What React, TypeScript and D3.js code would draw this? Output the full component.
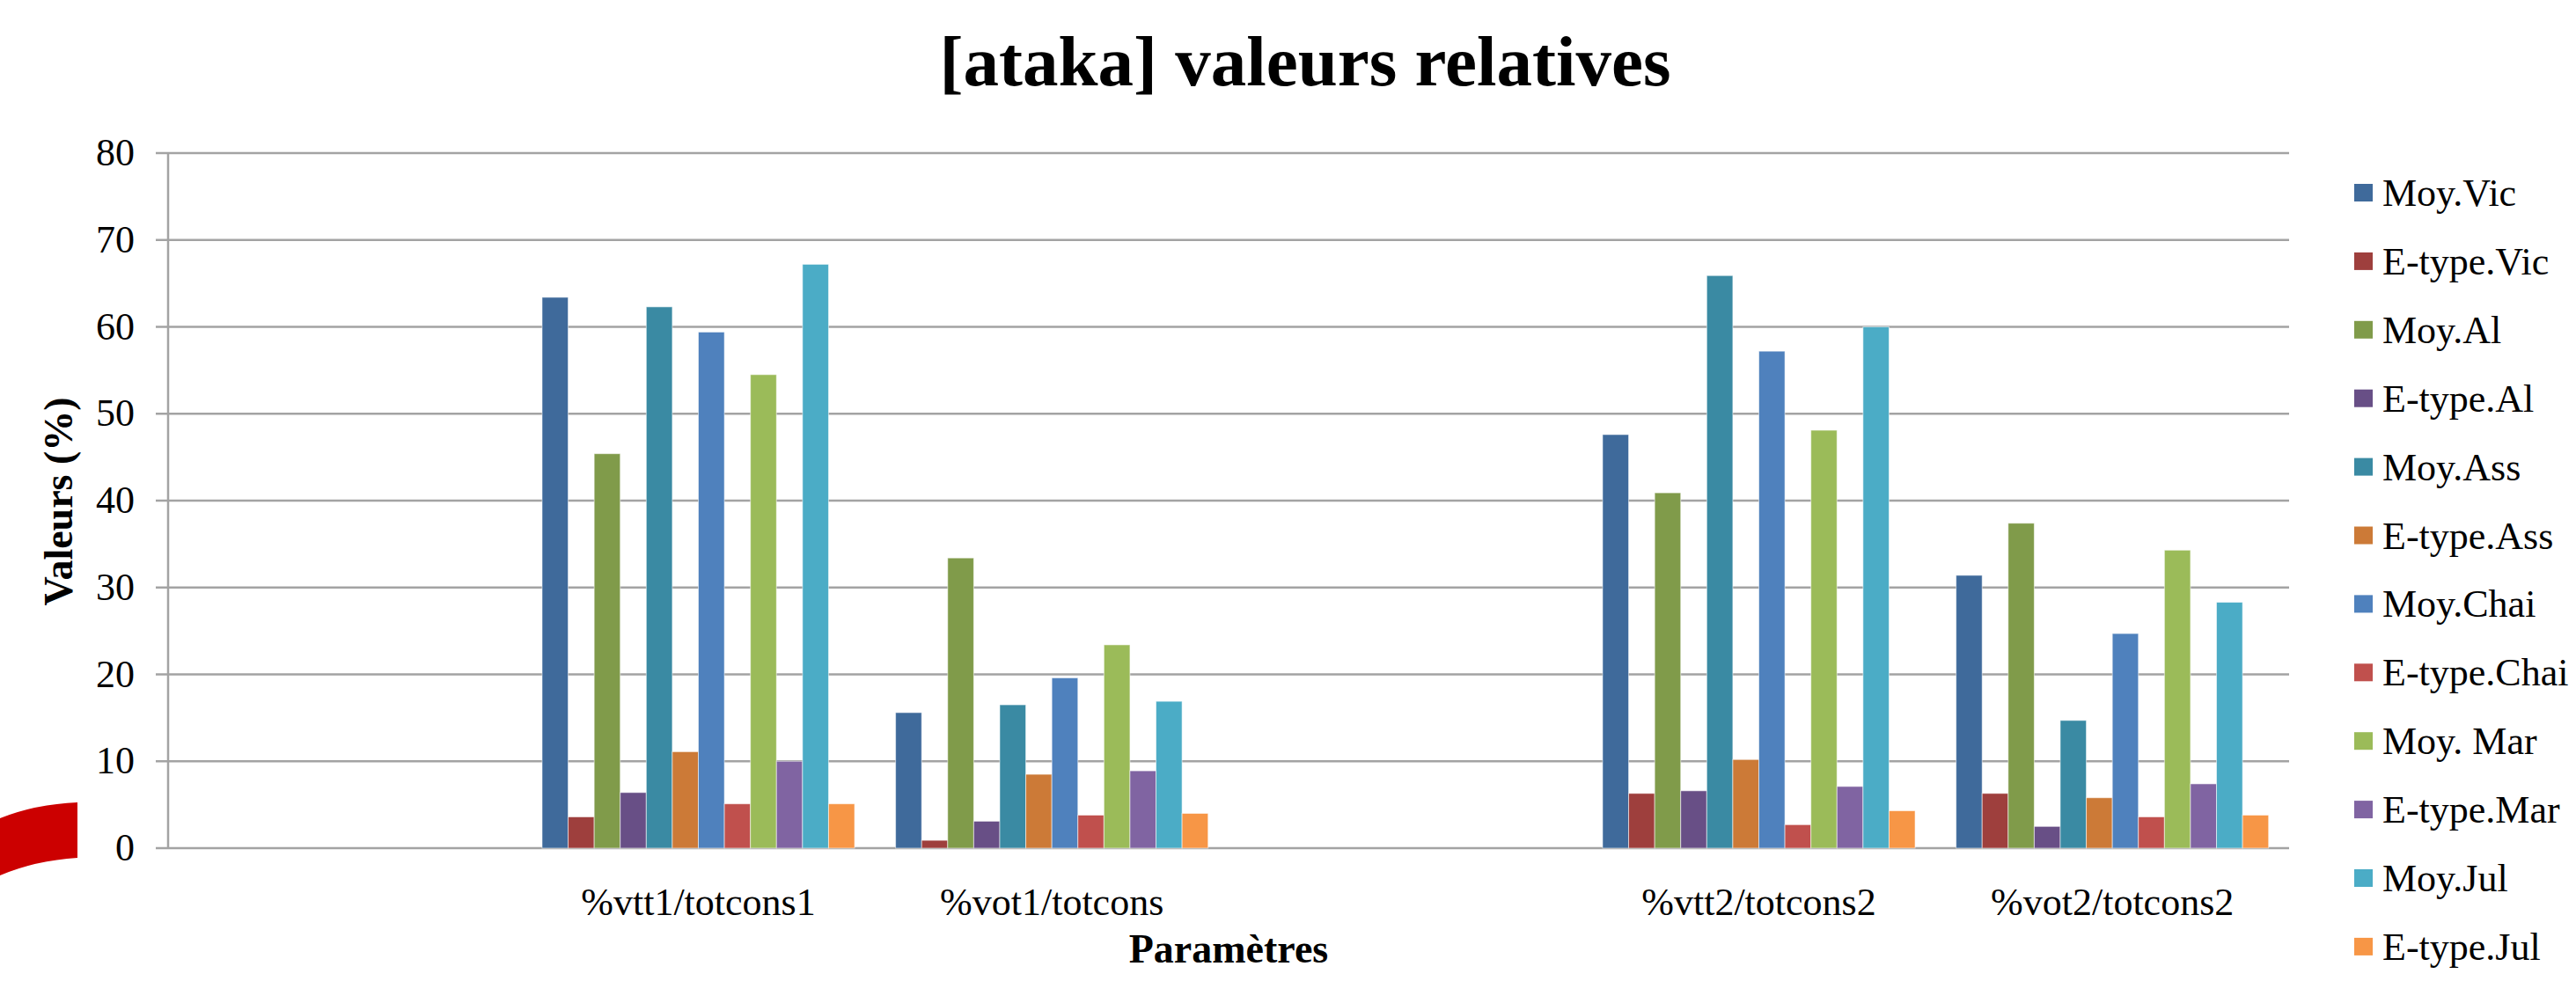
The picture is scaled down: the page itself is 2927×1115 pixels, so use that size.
import React, { useEffect, useRef } from "react";
import * as d3 from "d3";

// categories on the x axis (two blank slots, like the original sheet)
const categories = ["", "%vtt1/totcons1", "%vot1/totcons", " ", "%vtt2/totcons2", "%vot2/totcons2"];

const seriesNames = [
  "Moy.Vic", "E-type.Vic", "Moy.Al", "E-type.Al", "Moy.Ass", "E-type.Ass",
  "Moy.Chai", "E-type.Chai", "Moy. Mar", "E-type.Mar", "Moy.Jul", "E-type.Jul",
];

const seriesColors = [
  "#3f6a9b", "#9e3f3d", "#809b4a", "#684f86", "#3a8aa3", "#cc7a37",
  "#4f81bd", "#c0504d", "#9bbb59", "#8064a2", "#4bacc6", "#f79646",
];

// values per category, in series order
const vtt1Values = [63.4, 3.6, 45.4, 6.4, 62.3, 11.1, 59.4, 5.1, 54.5, 10.0, 67.2, 5.1];
const vot1Values = [15.6, 0.9, 33.4, 3.1, 16.5, 8.5, 19.6, 3.8, 23.4, 8.9, 16.9, 4.0];
const vtt2Values = [47.6, 6.3, 40.9, 6.6, 65.9, 10.2, 57.2, 2.7, 48.1, 7.1, 60.0, 4.3];
const vot2Values = [31.4, 6.3, 37.4, 2.5, 14.7, 5.8, 24.7, 3.6, 34.3, 7.4, 28.3, 3.8];

const yTicks = [0, 10, 20, 30, 40, 50, 60, 70, 80];

export default function App() {
  const svgRef = useRef<SVGSVGElement | null>(null);

  useEffect(() => {
    const svg = d3.select(svgRef.current);
    svg.selectAll("*").remove();

    const width = 2927;
    const height = 1115;
    const plot = { left: 191, right: 2601, top: 174, bottom: 964 };
    const font = "'Liberation Serif', 'Times New Roman', serif";

    svg.attr("width", width).attr("height", height);

    // decorative red arc from the slide template
    svg.append("path")
      .attr("d", "M88,912 L88,975 Q40,978 0,995 L0,930 Q40,914 88,912 Z")
      .attr("fill", "#cc0000");

    const valuesByCat: Record<string, number[]> = {
      "%vtt1/totcons1": vtt1Values,
      "%vot1/totcons": vot1Values,
      "%vtt2/totcons2": vtt2Values,
      "%vot2/totcons2": vot2Values,
    };

    // scales
    const x0 = d3.scaleBand<string>()
      .domain(categories)
      .range([plot.left, plot.right])
      .paddingInner(0)
      .paddingOuter(0);

    const groupW = x0.bandwidth() * 0.884;
    const x1 = d3.scaleBand<string>()
      .domain(seriesNames)
      .range([0, groupW]);

    const y = d3.scaleLinear()
      .domain([0, 80])
      .range([plot.bottom, plot.top]);

    // gridlines
    svg.append("g")
      .selectAll("line")
      .data(yTicks)
      .join("line")
      .attr("x1", plot.left - 14)
      .attr("x2", plot.right)
      .attr("y1", (d) => y(d))
      .attr("y2", (d) => y(d))
      .attr("stroke", "#a3a3a3")
      .attr("stroke-width", 2.5);

    // y axis line
    svg.append("line")
      .attr("x1", plot.left)
      .attr("x2", plot.left)
      .attr("y1", plot.top)
      .attr("y2", plot.bottom)
      .attr("stroke", "#a3a3a3")
      .attr("stroke-width", 2.5);

    // y tick labels
    svg.append("g")
      .selectAll("text")
      .data(yTicks)
      .join("text")
      .attr("x", 153)
      .attr("y", (d) => y(d) + 14)
      .attr("text-anchor", "end")
      .attr("font-family", font)
      .attr("font-size", 44)
      .attr("fill", "#000")
      .text((d) => d);

    // bars
    const groups = svg.append("g")
      .selectAll("g")
      .data(categories.filter((c) => valuesByCat[c]))
      .join("g")
      .attr("transform", (c) => `translate(${(x0(c) ?? 0) + (x0.bandwidth() - groupW) / 2},0)`);

    groups.selectAll("rect")
      .data((c) => valuesByCat[c].map((v, i) => ({ name: seriesNames[i], v, i })))
      .join("rect")
      .attr("x", (d) => x1(d.name) ?? 0)
      .attr("y", (d) => y(d.v))
      .attr("width", x1.bandwidth())
      .attr("height", (d) => y(0) - y(d.v))
      .attr("fill", (d) => seriesColors[d.i])
      .attr("stroke", "rgba(255,255,255,0.55)")
      .attr("stroke-width", 1);

    // x category labels
    svg.append("g")
      .selectAll("text")
      .data(categories.filter((c) => valuesByCat[c]))
      .join("text")
      .attr("x", (c) => (x0(c) ?? 0) + x0.bandwidth() / 2)
      .attr("y", 1040)
      .attr("text-anchor", "middle")
      .attr("font-family", font)
      .attr("font-size", 44)
      .attr("fill", "#000")
      .text((c) => c);

    // title
    svg.append("text")
      .attr("x", 1483)
      .attr("y", 97)
      .attr("text-anchor", "middle")
      .attr("font-family", font)
      .attr("font-weight", "bold")
      .attr("font-size", 81)
      .attr("fill", "#000")
      .text("[ataka] valeurs relatives");

    // axis titles
    svg.append("text")
      .attr("x", (plot.left + plot.right) / 2)
      .attr("y", 1094)
      .attr("text-anchor", "middle")
      .attr("font-family", font)
      .attr("font-weight", "bold")
      .attr("font-size", 46)
      .attr("fill", "#000")
      .text("Paramètres");

    svg.append("text")
      .attr("transform", "rotate(-90)")
      .attr("x", -570)
      .attr("y", 82)
      .attr("text-anchor", "middle")
      .attr("font-family", font)
      .attr("font-weight", "bold")
      .attr("font-size", 46)
      .attr("fill", "#000")
      .text("Valeurs (%)");

    // legend
    const legend = svg.append("g")
      .selectAll("g")
      .data(seriesNames)
      .join("g")
      .attr("transform", (d, i) => `translate(2675,${219 + i * 77.9})`);

    legend.append("rect")
      .attr("x", 0)
      .attr("y", -10)
      .attr("width", 21)
      .attr("height", 20)
      .attr("fill", (d, i) => seriesColors[i]);

    legend.append("text")
      .attr("x", 32)
      .attr("y", 15)
      .attr("font-family", font)
      .attr("font-size", 44)
      .attr("fill", "#000")
      .text((d) => d);
  }, []);

  return (
    <div style={{ position: "absolute", left: 0, top: 0 }}>
      <svg ref={svgRef} style={{ display: "block", background: "#fff" }}></svg>
    </div>
  );
}
